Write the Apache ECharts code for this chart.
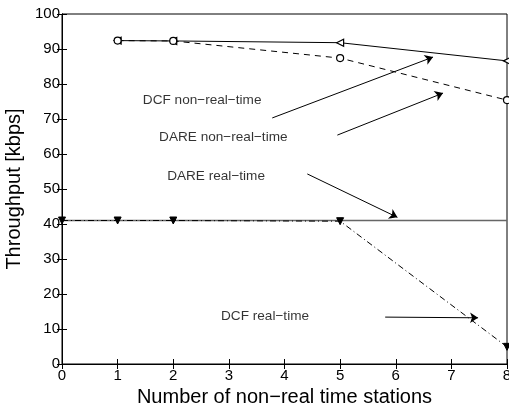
<!DOCTYPE html>
<html>
<head>
<meta charset="utf-8">
<script src="https://cdn.jsdelivr.net/npm/echarts@6/dist/echarts.min.js"></script>
<style>
  html, body { margin: 0; padding: 0; background: #fff; }
  #chart { width: 509px; height: 409px; }
</style>
</head>
<body>
<div id="chart"></div>
<script>
// x values (number of non-real time stations)
var stations = [1, 2, 5, 8]
var stationsRt = [0, 1, 2, 5, 8]

// throughput [kbps]
var dcfNonRt = [92.4, 92.3, 91.8, 86.6]
var dareNonRt = [92.4, 92.3, 87.4, 75.4]
var dareRt = [41, 41, 41, 41, 41]
var dcfRt = [41, 41, 41, 40.8, 4.9]

// annotation labels and arrows (data space)
var noteTexts = ['DCF non-real-time', 'DARE non-real-time', 'DARE real-time', 'DCF real-time']
var notePos = [[2.52, 75.4], [2.9, 64.9], [2.77, 53.7], [3.65, 13.7]]
var arrows = [
  [[3.78, 70.3], [6.67, 87.7]],
  [[4.95, 65.4], [6.85, 77.4]],
  [[4.41, 54.3], [6.03, 41.9]],
  [[5.81, 13.4], [7.48, 13.2]]
]

function pairs(xs, ys) {
  return xs.map(function (x, i) { return [x, ys[i]] })
}

var chart = echarts.init(document.getElementById('chart'))
var font = 'Liberation Sans, Arial, sans-serif'

chart.setOption({
  animation: false,
  textStyle: { fontFamily: font },
  grid: {
    left: 62, right: 2, top: 14, bottom: 45,
    outerBoundsMode: 'none', containLabel: false,
    show: true, borderColor: '#000', borderWidth: 1
  },
  xAxis: [{
    type: 'value', min: 0, max: 8, interval: 1,
    name: 'Number of non\u2212real time stations',
    nameLocation: 'middle', nameGap: 23,
    nameTextStyle: { fontSize: 20, color: '#000', fontFamily: font },
    axisLine: { lineStyle: { color: '#000', width: 1 } },
    axisTick: { inside: true, length: 5, lineStyle: { color: '#000' } },
    axisLabel: { color: '#000', fontSize: 15, margin: 4, showMaxLabel: true },
    splitLine: { show: false }
  }, {
    type: 'value', min: 0, max: 8, interval: 1, position: 'top',
    axisLine: { lineStyle: { color: '#000' } },
    axisTick: { inside: true, length: 5, lineStyle: { color: '#000' } },
    axisLabel: { show: false },
    splitLine: { show: false }
  }],
  yAxis: [{
    type: 'value', min: 0, max: 100, interval: 10,
    name: 'Throughput [kbps]',
    nameLocation: 'middle', nameGap: 31,
    nameTextStyle: { fontSize: 20, color: '#000', fontFamily: font },
    axisLine: { show: true, lineStyle: { color: '#000' } },
    axisTick: { show: true, inside: true, length: 5, lineStyle: { color: '#000' } },
    axisLabel: { color: '#000', fontSize: 15, margin: 2 },
    splitLine: { show: false }
  }, {
    type: 'value', min: 0, max: 100, interval: 10, position: 'right',
    axisLine: { show: true, lineStyle: { color: '#000' } },
    axisTick: { show: true, inside: true, length: 5, lineStyle: { color: '#000' } },
    axisLabel: { show: false },
    splitLine: { show: false }
  }],
  series: [
    {
      name: 'DCF non-real-time', type: 'line',
      data: pairs(stations, dcfNonRt),
      symbol: 'triangle', symbolRotate: 90, symbolSize: 7,
      itemStyle: { color: '#fff', borderColor: '#000', borderWidth: 1.2 },
      lineStyle: { color: '#000', width: 1, type: 'solid' }
    },
    {
      name: 'DARE non-real-time', type: 'line',
      data: pairs(stations, dareNonRt),
      symbol: 'circle', symbolSize: 7,
      itemStyle: { color: '#fff', borderColor: '#000', borderWidth: 1.2 },
      lineStyle: { color: '#000', width: 1, type: [6, 5] }
    },
    {
      name: 'DARE real-time', type: 'line',
      data: pairs(stationsRt, dareRt),
      showSymbol: false,
      lineStyle: { color: '#666', width: 1.4, type: 'solid' }
    },
    {
      name: 'DCF real-time', type: 'line',
      data: pairs(stationsRt, dcfRt),
      symbol: 'triangle', symbolRotate: 180, symbolSize: 7,
      itemStyle: { color: '#000', borderColor: '#000' },
      lineStyle: { color: '#000', width: 1, type: [6, 3, 1, 3] }
    },
    {
      name: 'arrows', type: 'lines', coordinateSystem: 'cartesian2d',
      symbol: ['none', 'arrow'], symbolSize: 8,
      lineStyle: { color: '#000', width: 1, opacity: 1 },
      data: arrows.map(function (a) { return { coords: a } }),
      silent: true, z: 5
    },
    {
      name: 'notes', type: 'scatter', symbolSize: 0,
      data: notePos.map(function (p, i) { return { value: p, name: noteTexts[i] } }),
      label: {
        show: true, position: 'inside', color: '#000', fontSize: 13.6,
        fontFamily: font,
        formatter: function (p) { return p.name.replace(/-/g, '\u2212') }
      },
      silent: true
    }
  ]
})
</script>
</body>
</html>
